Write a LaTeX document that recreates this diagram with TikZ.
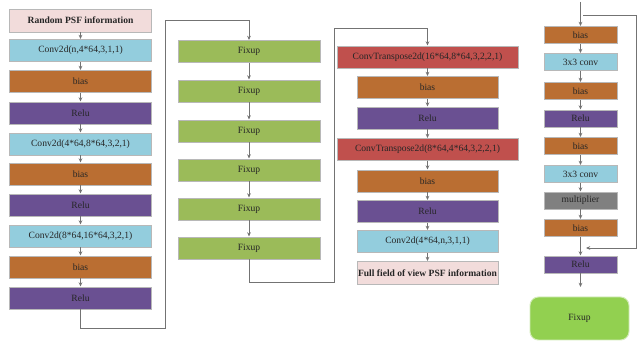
\documentclass[tikz,border=0pt]{standalone}
\usepackage{fontspec}
\setmainfont{Liberation Serif}
\usetikzlibrary{arrows.meta}
\definecolor{cpink}{HTML}{F2DCDB}
\definecolor{cblue}{HTML}{93CDDD}
\definecolor{cbias}{HTML}{BA6E32}
\definecolor{crelu}{HTML}{6A5092}
\definecolor{cfix}{HTML}{9BBB59}
\definecolor{cct}{HTML}{C0504D}
\definecolor{cmul}{HTML}{808080}
\definecolor{cbig}{HTML}{92D050}
\begin{document}
\begin{tikzpicture}[x=0.025cm,y=-0.025cm,
  box/.style={draw=black!28, line width=0.7pt, inner sep=0pt,
    font=\fontsize{6.8}{8}\selectfont, text=black!85},
  sz/.style 2 args={minimum width=#1*0.025cm, minimum height=#2*0.025cm},
  pinkbox/.style={box, fill=cpink},
  convbox/.style={box, fill=cblue},
  biasbox/.style={box, fill=cbias},
  relubox/.style={box, fill=crelu},
  fixbox/.style={box, fill=cfix},
  ctbox/.style={box, fill=cct},
  mulbox/.style={box, fill=cmul},
  bigfix/.style={box, fill=cbig, draw=cbig!40, rounded corners=6pt},
  arr/.style={draw=black!55, line width=0.5pt, -{Stealth[length=3pt,width=2.6pt]}},
  ln/.style={draw=black!55, line width=0.5pt}]
\useasboundingbox (0,0) rectangle (640,360);
\fill[white] (0,0) rectangle (640,360);

% column 1
\node[pinkbox, sz={142}{23}] (a1) at (80.5,20.5) {\bfseries Random PSF information};
\node[convbox, sz={142}{22}] (a2) at (80.5,50.5) {Conv2d(n,4*64,3,1,1)};
\node[biasbox, sz={142}{22}] (a3) at (80.5,81.5) {bias};
\node[relubox, sz={142}{22}] (a4) at (80.5,113) {Relu};
\node[convbox, sz={142}{22}] (a5) at (80.5,144) {Conv2d(4*64,8*64,3,2,1)};
\node[biasbox, sz={142}{22}] (a6) at (80.5,174) {bias};
\node[relubox, sz={142}{22}] (a7) at (80.5,205) {Relu};
\node[convbox, sz={142}{22}] (a8) at (80.5,236) {Conv2d(8*64,16*64,3,2,1)};
\node[biasbox, sz={142}{22}] (a9) at (80.5,267) {bias};
\node[relubox, sz={142}{22}] (a10) at (80.5,298) {Relu};
\foreach \i/\j in {a1/a2,a2/a3,a3/a4,a4/a5,a5/a6,a6/a7,a7/a8,a8/a9,a9/a10}
  \draw[arr] (\i) -- (\j);

% column 2
\node[fixbox, sz={142}{22}] (b1) at (249,51.5) {Fixup};
\node[fixbox, sz={142}{22}] (b2) at (249,91) {Fixup};
\node[fixbox, sz={142}{22}] (b3) at (249,131) {Fixup};
\node[fixbox, sz={142}{22}] (b4) at (249,170) {Fixup};
\node[fixbox, sz={142}{22}] (b5) at (249,209) {Fixup};
\node[fixbox, sz={142}{22}] (b6) at (249,248) {Fixup};
\foreach \i/\j in {b1/b2,b2/b3,b3/b4,b4/b5,b5/b6}
  \draw[arr] (\i) -- (\j);
\coordinate (k1) at (165,328);
\coordinate (k2) at (165,20);
\draw[arr] (a10.south) |- (k1) -- (k2) -| (b1.north);

% column 3
\node[ctbox, sz={181}{22}] (c1) at (427.5,57) {ConvTranspose2d(16*64,8*64,3,2,2,1)};
\node[biasbox, sz={141}{22}] (c2) at (427.5,87.5) {bias};
\node[relubox, sz={141}{22}] (c3) at (427.5,118) {Relu};
\node[ctbox, sz={181}{22}] (c4) at (427.5,149.5) {ConvTranspose2d(8*64,4*64,3,2,2,1)};
\node[biasbox, sz={141}{22}] (c5) at (427.5,181) {bias};
\node[relubox, sz={141}{22}] (c6) at (427.5,211.5) {Relu};
\node[convbox, sz={141}{22}] (c7) at (427.5,241.5) {Conv2d(4*64,n,3,1,1)};
\node[pinkbox, sz={141}{23}] (c8) at (427.5,273) {\bfseries Full field of view PSF information};
\foreach \i/\j in {c1/c2,c2/c3,c3/c4,c4/c5,c5/c6,c6/c7,c7/c8}
  \draw[arr] (\i) -- (\j);
\coordinate (k3) at (334,282);
\coordinate (k4) at (334,28);
\draw[arr] (b6.south) |- (k3) -- (k4) -| (c1.north);

% column 4
\node[biasbox, sz={73}{17}] (d1) at (580.5,35) {bias};
\node[convbox, sz={73}{17}] (d2) at (580.5,62) {3x3 conv};
\node[biasbox, sz={73}{17}] (d3) at (580.5,91) {bias};
\node[relubox, sz={73}{17}] (d4) at (580.5,118.5) {Relu};
\node[biasbox, sz={73}{17}] (d5) at (580.5,146) {bias};
\node[convbox, sz={73}{17}] (d6) at (580.5,174) {3x3 conv};
\node[mulbox, sz={73}{17}] (d7) at (580.5,200.5) {multiplier};
\node[biasbox, sz={73}{17}] (d8) at (580.5,228) {bias};
\node[relubox, sz={73}{17}] (d9) at (580.5,264.5) {Relu};
\foreach \i/\j in {d1/d2,d2/d3,d3/d4,d4/d5,d5/d6,d6/d7,d7/d8,d8/d9}
  \draw[arr] (\i) -- (\j);
\coordinate (t0) at (580.5,2);
\draw[arr] (t0) -- (d1);
\coordinate (s1) at (583,15);
\coordinate (s2) at (636,15);
\coordinate (s3) at (636,248);
\coordinate (s4) at (586,248);
\draw[arr] (s1) -- (s2) -- (s3) -- (s4);
\node[bigfix, sz={99}{43}] (e) at (579.5,318.5) {Fixup};
\coordinate (r1) at (580.5,287);
\draw[arr] (d9) -- (r1);
\end{tikzpicture}
\end{document}
